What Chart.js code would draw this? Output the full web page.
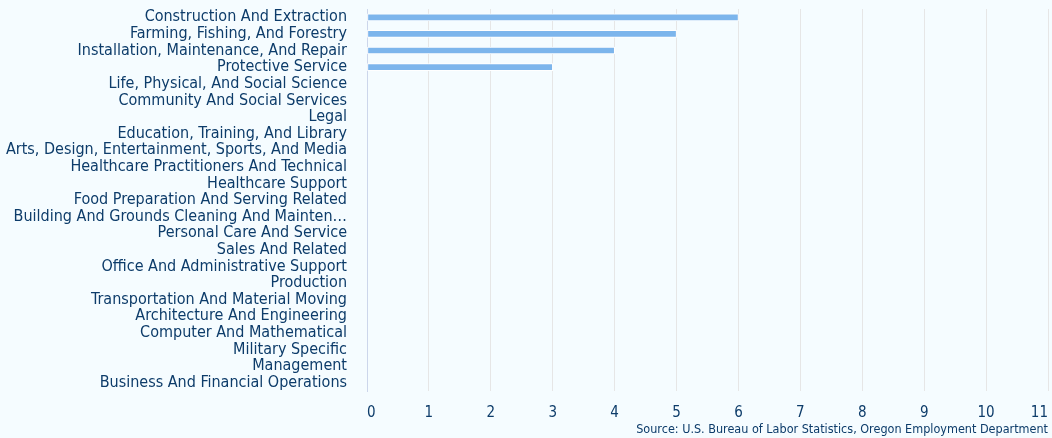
<!DOCTYPE html>
<html>
<head>
<meta charset="utf-8">
<script src="https://cdn.jsdelivr.net/npm/chart.js@4"></script>
<style>
  html, body { margin: 0; padding: 0; background: #f5fcff; }
  #wrap { width: 1052px; height: 438px; position: relative; }
</style>
</head>
<body>
<div id="wrap"><canvas id="c"></canvas></div>
<script>
const categories = [
  "Construction And Extraction",
  "Farming, Fishing, And Forestry",
  "Installation, Maintenance, And Repair",
  "Protective Service",
  "Life, Physical, And Social Science",
  "Community And Social Services",
  "Legal",
  "Education, Training, And Library",
  "Arts, Design, Entertainment, Sports, And Media",
  "Healthcare Practitioners And Technical",
  "Healthcare Support",
  "Food Preparation And Serving Related",
  "Building And Grounds Cleaning And Mainten\u2026",
  "Personal Care And Service",
  "Sales And Related",
  "Office And Administrative Support",
  "Production",
  "Transportation And Material Moving",
  "Architecture And Engineering",
  "Computer And Mathematical",
  "Military Specific",
  "Management",
  "Business And Financial Operations"
];
const values = [6, 5, 4, 3, 0, 0, 0, 0, 0, 0, 0, 0, 0, 0, 0, 0, 0, 0, 0, 0, 0, 0, 0];
const xTicks = [0, 1, 2, 3, 4, 5, 6, 7, 8, 9, 10, 11];
const sourceText = "Source: U.S. Bureau of Labor Statistics, Oregon Employment Department";

const textColor = "#0d3c6a";
const fontFamily = "'DejaVu Sans Condensed', 'DejaVu Sans', sans-serif";

new Chart(document.getElementById('c'), {
  type: 'bar',
  data: {
    labels: categories,
    datasets: [{
      data: values,
      backgroundColor: '#7cb5ec',
      borderColor: '#ffffff',
      borderWidth: 1,
      barThickness: 7,
      borderSkipped: false
    }]
  },
  options: {
    indexAxis: 'y',
    responsive: true,
    maintainAspectRatio: false,
    animation: false,
    layout: { padding: { left: 0, right: 4, top: 9, bottom: 1 } },
    plugins: {
      legend: { display: false },
      tooltip: { enabled: false },
      title: {
        display: true,
        text: sourceText,
        position: 'bottom',
        align: 'end',
        color: textColor,
        font: { family: fontFamily, size: 12.5, weight: 'normal' },
        padding: { top: 1, bottom: 0 }
      }
    },
    scales: {
      x: {
        min: 0,
        max: 11,
        afterBuildTicks: (s) => { s.ticks = xTicks.map(v => ({ value: v })); },
        afterFit: (s) => { s.paddingRight = 0; s.paddingLeft = 0; s.height = 30; },
        grid: { color: '#e6e6e6', drawTicks: false, lineWidth: 1 },
        border: { display: false },
        ticks: {
          color: textColor,
          font: { family: fontFamily, size: 15 },
          padding: 13,
          align: 'inner',
          maxRotation: 0
        }
      },
      y: {
        afterFit: (s) => { s.width = 367; s.paddingTop = 0; s.paddingBottom = 0; },
        grid: { display: false, drawTicks: false },
        border: { display: true, color: '#ccd6eb', width: 1 },
        ticks: {
          color: textColor,
          font: { family: fontFamily, size: 16 },
          padding: 20,
          autoSkip: false
        }
      }
    }
  }
});
</script>
</body>
</html>
